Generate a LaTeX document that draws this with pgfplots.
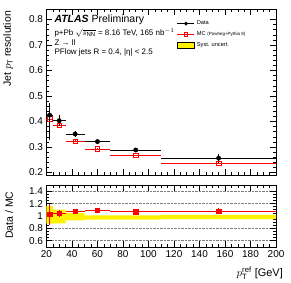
\documentclass[border=0pt]{standalone}
\usepackage{pgfplots}
\pgfplotsset{compat=1.18}
\usepackage{fontspec}
\setmainfont{Liberation Sans}
\begin{document}
\begin{tikzpicture}
\pgfplotsset{
  every axis/.append style={
    scale only axis, width=230pt, xmin=20, xmax=200,
    tick align=inside, major tick length=6pt, minor tick length=3pt,
    tick label style={font=\fontsize{10}{12}\selectfont},
    /pgf/number format/assume math mode=true,
    xtick={20,40,...,200}, minor x tick num=3,
    axis line style={line width=0.6pt},
    every tick/.style={black, line width=0.5pt},
  },
}
\begin{axis}[name=top, height=166pt, ymin=0.19, ymax=0.84,
  ytick={0.2,0.3,0.4,0.5,0.6,0.7,0.8}, minor y tick num=4,
  xticklabels={},
  ylabel={Jet $p_{\mathrm{T}}$ resolution},
  ylabel style={at={(axis description cs:-0.13,1.01)}, anchor=south east, font=\fontsize{10.5}{12}\selectfont},
  legend style={draw=none, fill=none, at={(axis description cs:0.555,0.955)}, anchor=north west,
    font=\fontsize{5.7}{6}\selectfont, cells={anchor=west}, row sep=1.5pt},
]
\addlegendimage{black, line width=0.8pt, mark=*, mark size=1.5pt}
\addlegendentry{Data}
\addlegendimage{red, line width=0.8pt, mark=square, mark size=1.8pt, mark options={fill=white}}
\addlegendentry{MC {\fontsize{4.5}{5}\selectfont (Powheg+Pythia 8)}}
\addlegendimage{area legend, fill=yellow, draw=none}
\addlegendentry{Syst. uncert.}
% MC
\addplot[red, only marks, mark=square, mark size=2.2pt, mark options={fill=white, line width=0.6pt},
  error bars/.cd, x dir=both, x explicit, y dir=both, y explicit, error mark=none,
  error bar style={red, line width=0.8pt}]
coordinates {
 (22.5,0.410) +- (2.5,0.005)
 (30,0.385) +- (5,0.004)
 (42.5,0.323) +- (7.5,0.003)
 (60,0.292) +- (10,0.003)
 (90,0.267) +- (20,0.002)
 (155,0.236) +- (45,0.003)
};
% Data
\addplot[black, only marks, mark=*, mark size=2.2pt,
  error bars/.cd, x dir=both, x explicit, y dir=both, y explicit, error mark=none,
  error bar style={black, line width=0.8pt}]
coordinates {
 (22.5,0.425) += (2.5,0.048) -= (2.5,0.098)
 (30,0.403) +- (5,0.022)
 (42.5,0.351) +- (7.5,0.012)
 (60,0.321) +- (10,0.010)
 (90,0.288) +- (20,0.008)
 (155,0.256) +- (45,0.018)
};
\node[anchor=west, font=\fontsize{10.5}{12}\selectfont] at (axis description cs:0.02,0.936) {\textbf{\textit{ATLAS}} Preliminary};
\node[anchor=west, font=\fontsize{8}{9}\selectfont] at (axis description cs:0.02,0.857) {p+Pb $\sqrt{s_{\mathrm{NN}}}$ = 8.16 TeV, 165 nb$^{-1}$};
\node[anchor=west, font=\fontsize{8}{9}\selectfont] at (axis description cs:0.02,0.797) {Z → ll};
\node[anchor=west, font=\fontsize{8}{9}\selectfont] at (axis description cs:0.02,0.737) {PFlow jets R = 0.4, |η| < 2.5};
\end{axis}
\begin{axis}[name=bot, at={(top.south west)}, anchor=north west, yshift=-10pt,
  height=62pt, ymin=0.5, ymax=1.5,
  ytick={0.6,0.8,1,1.2,1.4}, minor y tick num=3,
  ymajorgrids, major grid style={gray, densely dotted, line width=0.4pt},
  ylabel={Data / MC},
  ylabel style={at={(axis description cs:-0.13,0.95)}, anchor=south east, font=\fontsize{10.5}{12}\selectfont},
  xlabel={$p_{\mathrm{T}}^{\mathrm{ref}}$ [GeV]},
  xlabel style={at={(axis description cs:1.045,-0.42)}, anchor=east, font=\fontsize{11}{12}\selectfont},
]
\addplot[fill=yellow, draw=none] coordinates {
 (20,0.875)(25,0.875)(25,0.88)(35,0.88)(35,0.93)(50,0.93)(50,0.94)(70,0.94)(70,0.94)(110,0.94)(110,0.95)(200,0.95)
 (200,1.015)(110,1.015)(110,1.01)(70,1.01)(70,1.01)(50,1.01)(50,1.05)(35,1.05)(35,1.1)(25,1.1)(25,1.16)(20,1.16)
};
\addplot[red, only marks, mark=square*, mark size=2.2pt,
  error bars/.cd, x dir=both, x explicit, y dir=both, y explicit, error mark=none,
  error bar style={red, line width=0.8pt}]
coordinates {
 (22.5,1.03) +- (2.5,0.17)
 (30,1.04) +- (5,0.05)
 (42.5,1.08) +- (7.5,0.03)
 (60,1.09) +- (10,0.03)
 (90,1.07) +- (20,0.02)
 (155,1.08) +- (45,0.04)
};
\end{axis}
\path ([shift={(-46pt,9.3pt)}]top.north west) rectangle ([shift={(15pt,-32pt)}]bot.south east);
\end{tikzpicture}
\end{document}
